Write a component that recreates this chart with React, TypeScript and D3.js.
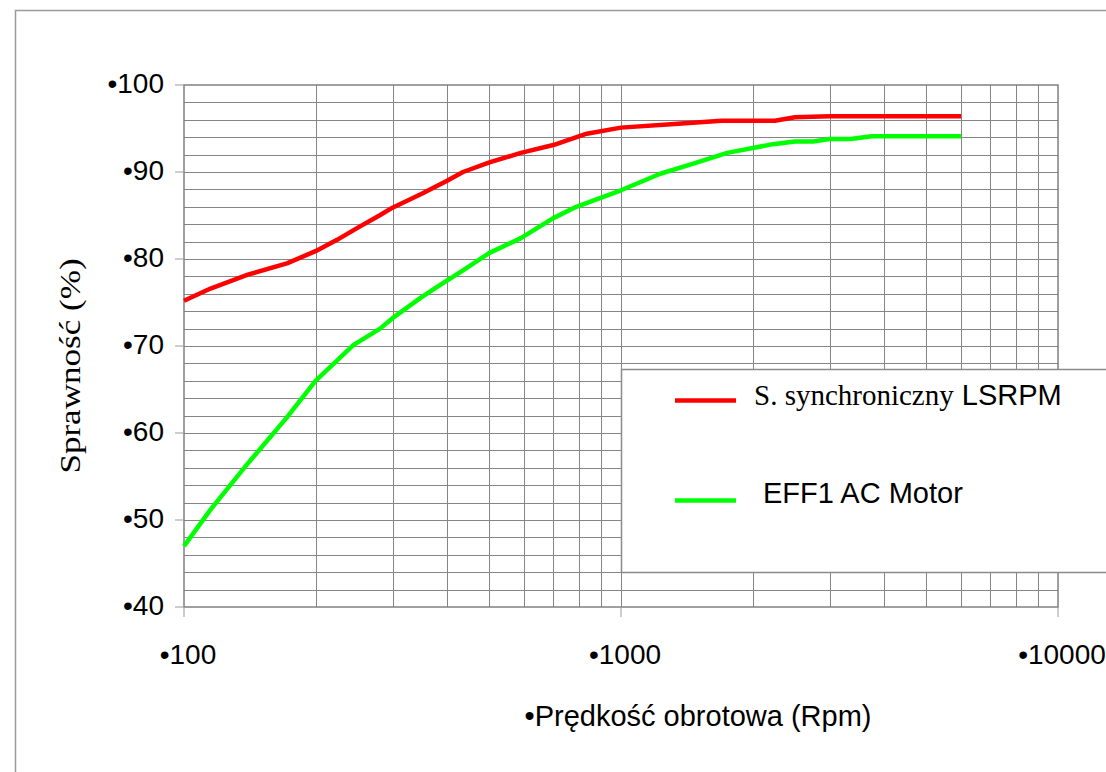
import React from "react";
import * as d3 from "d3";

const rpmRed = [100, 115, 140, 172, 200, 224, 250, 280, 300, 350, 400, 435, 500, 590, 700, 835, 1000, 1300, 1700, 2250, 2500, 3000, 6000];
const effRed = [75.2, 76.6, 78.2, 79.5, 80.9, 82.2, 83.6, 85.0, 85.9, 87.5, 89.0, 90.0, 91.1, 92.2, 93.1, 94.4, 95.1, 95.5, 95.9, 95.9, 96.3, 96.4, 96.4];

const rpmGreen = [100, 115, 140, 172, 200, 244, 281, 300, 347, 385, 435, 500, 590, 700, 790, 1000, 1230, 1470, 1750, 2230, 2500, 2750, 3000, 3350, 3750, 6000];
const effGreen = [47.0, 51.2, 56.5, 61.8, 66.0, 70.1, 72.0, 73.2, 75.5, 77.0, 78.7, 80.7, 82.4, 84.7, 86.0, 87.9, 89.8, 91.0, 92.2, 93.2, 93.5, 93.5, 93.8, 93.8, 94.1, 94.1];

const yTicks = [40, 50, 60, 70, 80, 90, 100];
const xTicks = [100, 1000, 10000];
const seriesNames = ["S. synchroniczny", "LSRPM", "EFF1 AC Motor"];
const xTitle = "•Prędkość obrotowa (Rpm)";
const yTitle = "Sprawność (%)";

export default function App() {
  const L = 184, R = 1058, T = 85, B = 607;
  const x = d3.scaleLog().domain([100, 10000]).range([L, R]);
  const y = d3.scaleLinear().domain([40, 100]).range([B, T]);

  const hGrid = d3.range(42, 100, 2);
  const vGrid: number[] = [];
  [100, 1000].forEach((d) => {
    for (let k = 2; k <= 9; k++) vGrid.push(d * k);
  });
  vGrid.push(1000);

  const line = d3
    .line<[number, number]>()
    .x((d) => x(d[0]))
    .y((d) => y(d[1]));

  const redPts = rpmRed.map((r, i) => [r, effRed[i]] as [number, number]);
  const greenPts = rpmGreen.map((r, i) => [r, effGreen[i]] as [number, number]);

  const sans = "'Liberation Sans', Arial, sans-serif";
  const serif = "'Liberation Serif', 'Times New Roman', serif";
  const grid = "#858585";

  return (
    <svg
      width={1106}
      height={772}
      style={{ position: "absolute", left: 0, top: 0, background: "#fff" }}
    >
      <rect x={0} y={0} width={1106} height={772} fill="#fff" />
      {/* outer frame */}
      <rect x={15.5} y={10.5} width={1200} height={900} fill="none" stroke="#9a9a9a" strokeWidth={1.5} />

      {/* grid */}
      {hGrid.map((v) => (
        <line key={"h" + v} x1={L} x2={R} y1={Math.round(y(v)) + 0.5} y2={Math.round(y(v)) + 0.5} stroke={grid} strokeWidth={1} />
      ))}
      {vGrid.map((v) => (
        <line key={"v" + v} x1={Math.round(x(v)) + 0.5} x2={Math.round(x(v)) + 0.5} y1={T} y2={B} stroke={grid} strokeWidth={1} />
      ))}
      {/* plot frame */}
      <rect x={L} y={T} width={R - L} height={B - T} fill="none" stroke="#808080" strokeWidth={1.5} />

      {/* y ticks */}
      {yTicks.map((v) => (
        <g key={"yt" + v}>
          <line x1={175} x2={L} y1={y(v)} y2={y(v)} stroke="#9a9a9a" strokeWidth={1} />
          <text x={164} y={y(v) + 8} textAnchor="end" fontFamily={sans} fontSize={28} fill="#000">
            {"•" + v}
          </text>
        </g>
      ))}
      {/* x ticks */}
      {xTicks.map((v) => (
        <g key={"xt" + v}>
          <line x1={x(v)} x2={x(v)} y1={B} y2={617} stroke="#9a9a9a" strokeWidth={1} />
          <text x={x(v) + 4} y={664} textAnchor="middle" fontFamily={sans} fontSize={28} fill="#000">
            {"•" + v}
          </text>
        </g>
      ))}

      {/* series */}
      <path d={line(greenPts) || ""} fill="none" stroke="#00ff00" strokeWidth={4.5} strokeLinejoin="round" />
      <path d={line(redPts) || ""} fill="none" stroke="#ff0000" strokeWidth={4.5} strokeLinejoin="round" />

      {/* axis titles */}
      <text x={698} y={726} textAnchor="middle" fontFamily={sans} fontSize={29} fill="#000">
        {xTitle}
      </text>
      <text
        transform="translate(80,366) rotate(-90) scale(1.17,1)"
        textAnchor="middle"
        fontFamily={serif}
        fontSize={30}
        fill="#000"
      >
        {yTitle}
      </text>

      {/* legend */}
      <rect x={621.5} y={369.5} width={600} height={203} fill="#fff" stroke="#8a8a8a" strokeWidth={1.5} />
      <line x1={675} x2={736} y1={400.5} y2={400.5} stroke="#ff0000" strokeWidth={4.5} />
      <line x1={675} x2={736} y1={500.5} y2={500.5} stroke="#00ff00" strokeWidth={4.5} />
      <text x={754} y={405} fontSize={29} fill="#000">
        <tspan fontFamily={serif}>{seriesNames[0]}</tspan>
        <tspan fontFamily={sans}>{" " + seriesNames[1]}</tspan>
      </text>
      <text x={763} y={503} fontFamily={sans} fontSize={29} fill="#000">
        {seriesNames[2]}
      </text>
    </svg>
  );
}
